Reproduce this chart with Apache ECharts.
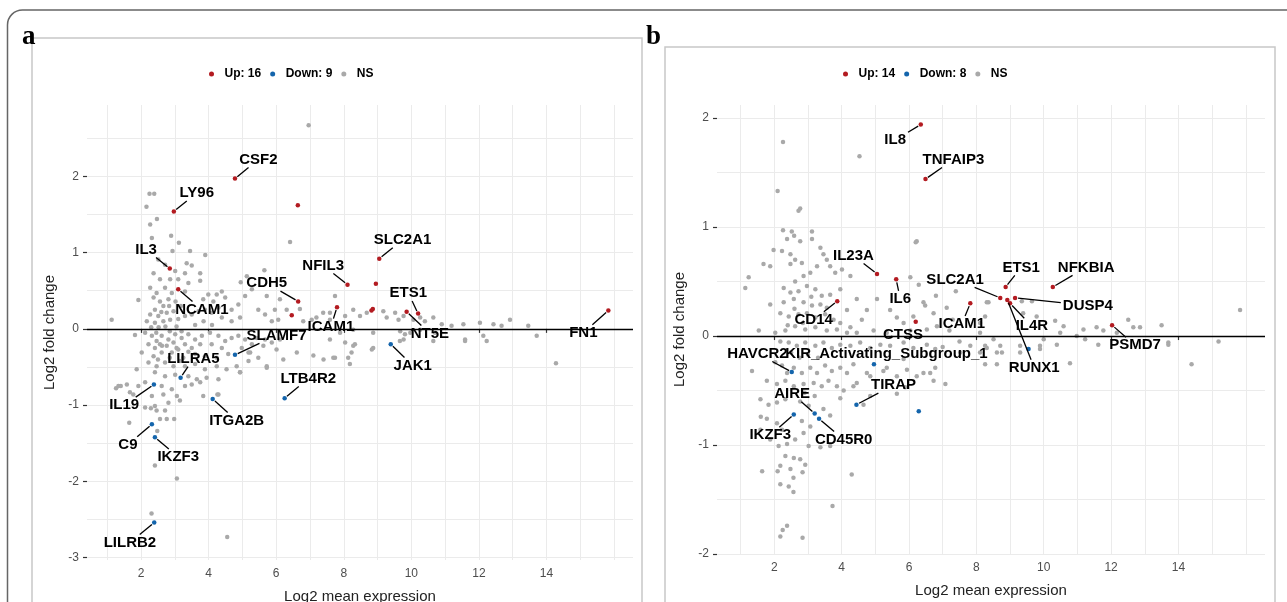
<!DOCTYPE html>
<html><head><meta charset="utf-8">
<script src="https://cdn.jsdelivr.net/npm/echarts@6/dist/echarts.min.js"></script>
<style>html,body{margin:0;padding:0;background:#fff}#c{width:1287px;height:602px}</style>
</head><body><div id="c"></div><script>
// ---------- Panel a data ----------
const aNS = [
[6.96,2.67],[2.25,1.77],[2.39,1.77],[2.16,1.60],[2.47,1.44],[2.27,1.37],[6.41,1.14],[6.31,0.25],[6.70,0.26],[7.05,0.12],[7.74,0.43],[7.39,0.21],[6.80,0.10],[7.19,0.15],[7.59,0.12],[3.90,0.97],[5.65,0.77],[5.13,0.69],[4.95,0.61],[6.11,0.39],
[2.32,1.19],[2.89,1.22],[3.12,1.13],[2.93,1.02],[3.45,1.02],[2.51,0.91],[2.71,0.84],[3.35,0.86],[3.50,0.83],[3.01,0.76],[3.30,0.73],[3.75,0.73],[3.75,0.63],[2.37,0.73],[2.56,0.65],[2.86,0.65],[3.10,0.65],[3.40,0.60],[2.27,0.54],[2.46,0.47],[2.71,0.54],[2.91,0.47],[3.30,0.49],[1.92,0.38],[2.37,0.41],[2.56,0.36],[2.81,0.39],[2.66,0.30],[2.41,0.25],[2.27,0.19],[2.51,0.17],[2.76,0.21],[2.96,0.23],[2.17,0.10],[2.41,0.08],[2.66,0.10],[2.86,0.12],[3.10,0.13],[3.30,0.17],[3.50,0.19],[3.70,0.23],[3.89,0.25],[4.09,0.21],[4.29,0.28],[4.24,0.45],[4.39,0.49],[4.49,0.41],[4.14,0.36],[3.99,0.45],[3.84,0.39],[4.68,0.25],[4.88,0.32],[4.93,0.15],[4.68,0.10],[4.39,0.15],[5.08,0.43],[5.28,0.52],[5.47,0.25],[5.72,0.43],[5.67,0.19],[5.96,0.25],[5.87,0.10],[6.06,0.12],[1.13,0.12],
[2.60,0.22],[2.72,0.03],[2.83,0.30],[3.02,0.36],[3.18,0.30],[2.52,0.02],[3.05,0.03],[2.30,0.02],[3.60,0.05],[3.85,0.10],[4.10,0.05],[2.45,-0.05],[2.85,-0.03],[3.20,-0.03],[2.62,-0.22],[3.05,-0.25],[3.40,-0.30],[2.85,-0.38],[3.15,-0.42],[2.50,-0.40],
[1.82,-0.08],[2.12,-0.05],[2.32,-0.09],[2.46,-0.16],[2.61,-0.09],[2.81,-0.14],[3.01,-0.07],[3.20,-0.12],[3.40,-0.07],[3.60,-0.14],[3.80,-0.09],[4.04,-0.05],[4.29,-0.09],[4.49,-0.16],[4.68,-0.12],[4.88,-0.09],[5.08,-0.14],[5.28,-0.20],[5.42,-0.12],[5.67,-0.14],[5.87,-0.18],[6.11,-0.14],
[2.22,-0.20],[2.41,-0.25],[2.56,-0.20],[2.76,-0.22],[2.96,-0.18],[3.10,-0.27],[3.30,-0.20],[3.50,-0.25],[3.75,-0.20],[4.09,-0.20],[4.39,-0.25],[4.98,-0.25],
[2.02,-0.31],[2.37,-0.36],[2.61,-0.31],[2.91,-0.31],[3.25,-0.38],[3.60,-0.33],[3.89,-0.36],[4.24,-0.38],[4.58,-0.33],[5.18,-0.31],[5.47,-0.38],[5.72,-0.49],[5.18,-0.42],
[2.22,-0.44],[2.46,-0.49],[2.71,-0.44],[2.96,-0.49],[3.30,-0.49],[3.60,-0.46],[3.89,-0.53],[4.24,-0.49],[4.53,-0.53],[4.83,-0.49],
[2.41,-0.57],[2.71,-0.62],[3.01,-0.60],[3.40,-0.62],[3.65,-0.66],[3.94,-0.64],[4.29,-0.66],[4.93,-0.57],
[1.33,-0.75],[1.58,-0.73],[1.92,-0.75],[2.12,-0.70],[2.61,-0.75],[2.91,-0.79],[3.30,-0.75],[3.50,-0.73],[3.75,-0.70],
[1.77,-0.86],[2.32,-0.88],[2.66,-0.86],[3.06,-0.88],[4.29,-0.86],[2.41,-1.01],[2.81,-0.97],
[1.87,-0.53],[1.26,-0.78],[1.40,-0.75],[1.67,-0.83],[1.65,-1.23],[2.12,-1.03],[2.29,-1.04],[2.46,-1.07],[2.71,-1.07],[2.56,-1.18],[2.76,-1.18],[2.98,-1.18],[2.48,-1.34],[2.41,-1.79],[3.06,-1.96],[2.31,-2.42],[4.55,-2.73],[3.15,-0.94],[3.84,-0.88],[4.26,-0.86],[4.93,-0.57],[5.72,-0.51],[6.21,-0.40],[6.61,-0.31],[7.10,-0.35],[7.40,-0.40],[7.74,-0.38],[5.23,-0.31],[5.62,-0.22],[6.01,-0.27],
[7.59,0.21],[8.04,0.17],[8.28,0.25],[8.48,0.17],[8.68,0.21],[9.17,0.23],[9.27,0.15],[9.52,0.21],[9.62,0.12],[9.77,0.17],[10.06,0.12],[10.26,0.15],[10.40,0.10],[10.65,0.15],[10.90,0.06],[11.19,0.04],[11.54,0.06],[12.03,0.08],[12.43,0.06],[12.67,0.04],[12.92,0.12],[13.46,0.04],[13.71,-0.09],[12.13,-0.09],[11.59,-0.14],[10.70,-0.05],[10.26,-0.01],[9.67,-0.03],[8.87,-0.05],[8.28,-0.01],[7.89,-0.05],[7.59,-0.14],[8.28,-0.22],[8.04,-0.18],[8.87,-0.25],[9.77,-0.14],[9.81,-0.07],[9.97,-0.05],
[7.69,-0.38],[8.18,-0.46],[8.13,-0.38],[8.23,-0.31],[8.33,-0.20],[8.83,-0.27],[9.66,-0.16],[10.65,-0.16],[11.59,-0.16],[14.28,-0.45],[12.23,-0.16]
];
const aUp = [
[4.78,1.97,'CSF2'],[2.97,1.54,'LY96'],[6.64,1.62,''],[2.85,0.79,'IL3'],[3.10,0.52,'NCAM1'],[6.65,0.36,'CDH5'],[8.11,0.58,'NFIL3'],[7.80,0.285,'ICAM1'],[9.05,0.92,'SLC2A1'],[8.95,0.59,''],[8.82,0.24,''],[8.86,0.26,''],[9.86,0.225,'NT5E'],[10.20,0.20,'ETS1'],[15.83,0.24,'FN1'],[6.46,0.18,'']
];
const aDown = [
[4.78,-0.34,'SLAMF7'],[3.17,-0.64,'LILRA5'],[2.38,-0.73,'IL19'],[4.12,-0.92,'ITGA2B'],[6.25,-0.91,'LTB4R2'],[2.32,-1.25,'C9'],[2.41,-1.42,'IKZF3'],[2.39,-2.54,'LILRB2'],[9.39,-0.20,'JAK1']
];
const aLabels = [
['CSF2',5.47,2.22],['LY96',3.65,1.78],['IL3',2.15,1.04],['NCAM1',3.80,0.255],['CDH5',5.72,0.60],['NFIL3',7.39,0.83],['ICAM1',7.62,0.03],['SLC2A1',9.74,1.17],['ETS1',9.91,0.47],['NT5E',10.55,-0.06],['FN1',15.09,-0.05],['SLAMF7',6.01,-0.085],['LILRA5',3.55,-0.39],['IL19',1.50,-1.0],['ITGA2B',4.83,-1.2],['LTB4R2',6.95,-0.65],['C9',1.61,-1.52],['IKZF3',3.10,-1.68],['LILRB2',1.67,-2.80],['JAK1',10.04,-0.48]
];
// ---------- Panel b data ----------
const bNS = [
[2.72,1.15],[2.77,1.17],[2.26,0.97],[2.52,0.96],[2.59,0.92],[2.38,0.89],[2.77,0.87],[3.12,0.96],[3.12,0.89],[1.98,0.79],[2.23,0.78],[2.48,0.75],[2.62,0.70],[2.82,0.67],[2.48,0.66],[1.68,0.66],[1.88,0.64],[3.37,0.81],[3.46,0.75],[3.56,0.70],[3.66,0.64],[3.81,0.58],[4.01,0.61],[4.26,0.55],[3.27,0.64],[3.07,0.58],[2.87,0.55],[2.62,0.50],[1.24,0.54],[1.14,0.44],[2.28,0.44],[2.48,0.40],[2.72,0.41],[2.97,0.46],[3.22,0.43],[3.41,0.37],[3.66,0.38],[3.96,0.43],[1.88,0.29],[2.28,0.31],[2.58,0.34],[2.87,0.31],[3.12,0.28],[3.37,0.29],[3.56,0.26],[4.16,0.24],[4.45,0.34],[2.18,0.21],[2.43,0.18],[2.72,0.20],[2.97,0.21],[3.22,0.17],[3.51,0.20],[3.76,0.15],[3.96,0.12],[4.26,0.08],[4.60,0.15],[4.75,0.24],[5.05,0.34],[5.44,0.24],[5.64,0.17],[5.84,0.12],[6.13,0.18],[6.48,0.28],[6.73,0.21],[6.23,0.87],[6.04,0.54],[6.29,0.47],[6.43,0.31],[2.62,0.09],[2.92,0.06],[3.22,0.08],[3.56,0.05],[3.86,0.06],[4.16,0.03],[4.45,0.03],[4.95,0.05],[5.34,0.03],[6.04,0.05],[6.53,0.06],[6.83,0.09],[2.03,0.03],[2.33,0.05],
[2.40,0.10],[2.60,0.25],[2.85,0.12],[3.10,0.36],[2.50,-0.15],[2.75,-0.20],[3.00,-0.17],[3.30,-0.20],[2.90,-0.52],[3.20,-0.55],
[2.18,-0.05],[2.43,-0.06],[2.67,-0.09],[2.92,-0.06],[3.22,-0.09],[3.46,-0.06],[3.71,-0.11],[3.96,-0.08],[4.26,-0.09],[4.55,-0.06],[4.85,-0.11],[5.15,-0.08],[5.44,-0.09],[5.84,-0.06],[6.13,-0.11],[6.53,-0.08],[6.78,-0.12],
[1.34,-0.32],[2.03,-0.24],[2.23,-0.27],[2.38,-0.34],[2.58,-0.29],[2.82,-0.34],[3.07,-0.29],[3.27,-0.34],[3.51,-0.27],[3.71,-0.32],[3.96,-0.29],[4.16,-0.34],[4.35,-0.26],[4.75,-0.34],[5.34,-0.29],[5.64,-0.37],[5.94,-0.31],[6.23,-0.37],[6.63,-0.34],[6.73,-0.41],
[1.78,-0.41],[2.08,-0.44],[2.33,-0.41],[2.58,-0.46],[2.87,-0.44],[3.17,-0.43],[3.41,-0.46],[3.61,-0.41],[3.86,-0.46],[4.06,-0.50],[4.35,-0.46],[4.65,-0.63],[4.85,-0.55],[5.64,-0.53],
[1.59,-0.58],[1.83,-0.63],[2.08,-0.61],[2.33,-0.58],[2.77,-0.60],[3.02,-0.64],[3.46,-0.67],[3.66,-0.73],[1.78,-0.76],[2.08,-0.80],[2.23,-0.86],[2.82,-0.78],[3.07,-0.83],[1.59,-0.86],[1.88,-0.95],[2.13,-1.01],[2.38,-0.99],[2.62,-0.95],[3.02,-1.01],[2.33,-1.10],[2.58,-1.12],[2.18,-1.19],[2.48,-1.22],[1.64,-1.24],[2.43,-1.38],[2.18,-1.36],[4.30,-1.27],
[2.10,-1.24],[2.57,-1.30],[2.84,-1.25],[2.92,-1.18],[2.77,-1.13],[3.73,-1.56],[2.38,-1.74],[2.25,-1.78],[2.18,-1.84],[2.84,-1.85],[2.57,-1.43],[7.08,-0.44],[7.52,-0.15],
[1.60,-0.74],[2.87,-0.89],[3.37,-1.02],[3.66,-1.01],[3.96,-0.57],[5.89,-0.47],[6.78,-0.29],[6.43,-0.34],[5.84,-0.21],[5.24,-0.32],[4.85,-0.37],[4.45,-0.43],
[2.26,1.78],[2.10,1.33],[4.53,1.65],[6.20,0.86],[7.39,0.41],[7.12,0.26],[8.11,0.12],[8.31,0.31],[8.26,0.18],[6.80,0.37],[1.54,0.05],[7.20,0.05],[7.50,-0.05],[7.00,-0.10],[7.30,0.15],
[8.36,0.31],[9.35,0.32],[9.65,0.32],[10.34,0.14],[10.59,0.09],[9.79,0.18],[9.39,0.21],[11.18,0.06],[11.57,0.08],[11.77,0.05],[12.17,0.03],[12.51,0.15],[12.66,0.08],[12.86,0.08],[13.50,0.10],[13.70,-0.06],[11.62,-0.08],[15.83,0.24],[15.19,-0.05],[10.00,-0.03],[10.49,0.03],[10.98,0.00],[11.23,-0.03],[8.51,-0.03],[8.11,0.03],[7.82,-0.09],[8.11,-0.15],[8.61,-0.15],[9.30,-0.09],[9.89,-0.12],[8.31,-0.11],[8.71,-0.09],
[8.26,-0.26],[8.61,-0.26],[8.26,-0.09],[8.76,-0.15],[9.30,-0.15],[9.89,-0.09],[10.78,-0.25],[10.39,-0.08],[13.70,-0.08],[14.39,-0.26]
];
const bUp = [
[6.35,1.94,'IL8'],[6.49,1.44,'TNFAIP3'],[5.05,0.57,'IL23A'],[5.62,0.52,'IL6'],[3.87,0.32,'CD14'],[6.20,0.13,'CTSS'],[7.82,0.30,'ICAM1'],[8.71,0.35,'SLC2A1'],[8.87,0.45,'ETS1'],[8.92,0.33,'RUNX1'],[9.00,0.30,'IL4R'],[9.15,0.35,'DUSP4'],[10.27,0.45,'NFKBIA'],[12.03,0.10,'PSMD7']
];
const bDown = [
[4.96,-0.26,'KIR_Activating_Subgroup_1'],[4.44,-0.63,'TIRAP'],[6.29,-0.69,''],[2.58,-0.72,'IKZF3'],[3.20,-0.71,'AIRE'],[3.33,-0.76,'CD45R0'],[9.55,-0.12,''],[2.52,-0.33,'HAVCR2']
];
const bLabels = [
['IL8',5.59,1.80],['TNFAIP3',7.32,1.62],['IL23A',4.35,0.74],['IL6',5.74,0.34],['CD14',3.17,0.15],['CTSS',5.82,0.015],['ICAM1',7.57,0.11],['SLC2A1',7.37,0.52],['ETS1',9.33,0.63],['NFKBIA',11.26,0.63],['DUSP4',11.31,0.28],['IL4R',9.65,0.09],['RUNX1',9.72,-0.29],['PSMD7',12.71,-0.085],['HAVCR2',1.50,-0.16],['KIR_Activating_Subgroup_1',5.33,-0.16],['AIRE',2.53,-0.53],['IKZF3',1.88,-0.91],['CD45R0',4.06,-0.95],['TIRAP',5.54,-0.45]
];
// ---------- axis ticks ----------
const xTicks = [2,4,6,8,10,12,14];
const xGrid = [1,2,3,4,5,6,7,8,9,10,11,12,13,14,15,16];
const aYTicks = [-3,-2,-1,0,1,2];
const aYGrid = [-3,-2.5,-2,-1.5,-1,-0.5,0,0.5,1,1.5,2,2.5];
const bYTicks = [-2,-1,0,1,2];
const bYGrid = [-2,-1.5,-1,-0.5,0,0.5,1,1.5,2];
const legendA = ['Up: 16','Down: 9','NS_a'];
const legendB = ['Up: 14','Down: 8','NS_b'];

const FONT = '"Liberation Sans", Arial, Helvetica, sans-serif';
const RED='#B31B21', BLUE='#1465AC', GREY='#A9A9A9';
const LFONT = 'bold 15px ' + FONT;
const ctx = document.createElement('canvas').getContext('2d');
ctx.font = LFONT;
const measure = t => ctx.measureText(t).width;

function labelData(pts, labels) {
  return labels.map(l => { const p = pts.find(q => q[2] === l[0]); return [p[0], p[1], l[1], l[2]]; });
}
function makeRender(labels) {
  return function (params, api) {
    const name = labels[params.dataIndex][0];
    const p = api.coord([api.value(0), api.value(1)]);
    const c = api.coord([api.value(2), api.value(3)]);
    const hw = measure(name) / 2 + 2, hh = 8;
    const dx = c[0] - p[0], dy = c[1] - p[1];
    const children = [];
    if (!(Math.abs(dx) <= hw && Math.abs(dy) <= hh)) {
      let s = Infinity;
      if (dx !== 0) s = Math.min(s, hw / Math.abs(dx));
      if (dy !== 0) s = Math.min(s, hh / Math.abs(dy));
      const t = 1 - s;
      const ex = p[0] + dx * t, ey = p[1] + dy * t;
      const len = Math.hypot(ex - p[0], ey - p[1]);
      if (len > 8) {
        const ux = (ex - p[0]) / len, uy = (ey - p[1]) / len;
        children.push({type:'line', shape:{x1:p[0]+ux*3, y1:p[1]+uy*3, x2:ex, y2:ey}, style:{stroke:'#000', lineWidth:1.3}});
      }
    }
    children.push({type:'text', x:c[0], y:c[1], style:{text:name, font:LFONT, fill:'#000', align:'center', verticalAlign:'middle'}});
    return {type:'group', children};
  };
}

const axisLabelStyle = {color:'#4d4d4d', fontSize:12, fontFamily:FONT};
function mainX(gi, min, max) {
  return {gridIndex:gi, type:'value', min, max, axisLine:{show:false},
    axisTick:{show:true, customValues:xTicks, length:4, lineStyle:{color:'#333', width:1.2}},
    axisLabel:Object.assign({customValues:xTicks, margin:8}, axisLabelStyle),
    splitLine:{show:false}, name:'Log2 mean expression', nameLocation:'middle', nameGap:29,
    nameTextStyle:{fontSize:15, color:'#222', fontFamily:FONT}};
}
function gridX(gi, min, max) {
  return {gridIndex:gi, type:'value', min, max, axisLine:{show:false},
    axisTick:{show:false, customValues:xGrid}, axisLabel:{show:false},
    splitLine:{show:true, lineStyle:{color:'#ebebeb', width:1}}};
}
function mainY(gi, min, max, ticks) {
  return {gridIndex:gi, type:'value', min, max, axisLine:{show:false},
    axisTick:{show:true, customValues:ticks, length:4, lineStyle:{color:'#333', width:1.2}},
    axisLabel:Object.assign({customValues:ticks, margin:8}, axisLabelStyle),
    splitLine:{show:false}, name:'Log2 fold change', nameLocation:'middle', nameGap:30,
    nameTextStyle:{fontSize:15, color:'#222', fontFamily:FONT}};
}
function gridY(gi, min, max, g) {
  return {gridIndex:gi, type:'value', min, max, axisLine:{show:false},
    axisTick:{show:false, customValues:g}, axisLabel:{show:false},
    splitLine:{show:true, lineStyle:{color:'#ebebeb', width:1}}};
}
const zeroLine = {silent:true, symbol:'none', label:{show:false}, animation:false,
  lineStyle:{color:'#000', width:1.3, type:'solid'}, emphasis:{disabled:true}, data:[{yAxis:0}]};
function scat(name, data, color, xi, yi, ml) {
  const s = {name, type:'scatter', data:data.map(d => [d[0], d[1]]), xAxisIndex:xi, yAxisIndex:yi,
    symbolSize:4.5, itemStyle:{color, opacity:1}, silent:true, z:2};
  if (ml) s.markLine = ml;
  return s;
}
const legendCommon = {top:63, itemWidth:16, itemHeight:5, itemGap:9, selectedMode:false,
  formatter: n => n.replace(/_[ab]$/, ''), textStyle:{fontWeight:'bold', fontSize:12, color:'#000', fontFamily:FONT}};

const chart = echarts.init(document.getElementById('c'), null, {renderer:'canvas'});
chart.setOption({
  animation:false,
  backgroundColor:'#fff',
  grid:[
    {left:87, top:105, width:546, height:455, containLabel:false, outerBoundsMode:'none'},
    {left:717, top:105, width:548, height:449, containLabel:false, outerBoundsMode:'none'}
  ],
  xAxis:[mainX(0,0.4,16.56), gridX(0,0.4,16.56), mainX(1,0.3,16.57), gridX(1,0.3,16.57)],
  yAxis:[mainY(0,-3.03,2.935,aYTicks), gridY(0,-3.03,2.935,aYGrid), mainY(1,-2.0,2.12,bYTicks), gridY(1,-2.0,2.12,bYGrid)],
  legend:[
    Object.assign({data:legendA, left:204}, legendCommon),
    Object.assign({data:legendB, left:838}, legendCommon)
  ],
  series:[
    scat('NS_a', aNS, GREY, 0, 0, zeroLine),
    scat('Up: 16', aUp, RED, 0, 0),
    scat('Down: 9', aDown, BLUE, 0, 0),
    {type:'custom', xAxisIndex:0, yAxisIndex:0, z:5, silent:true, renderItem:makeRender(aLabels),
      data:labelData(aUp.concat(aDown), aLabels), encode:{x:0, y:1}},
    scat('NS_b', bNS, GREY, 2, 2, zeroLine),
    scat('Up: 14', bUp, RED, 2, 2),
    scat('Down: 8', bDown, BLUE, 2, 2),
    {type:'custom', xAxisIndex:2, yAxisIndex:2, z:5, silent:true, renderItem:makeRender(bLabels),
      data:labelData(bUp.concat(bDown), bLabels), encode:{x:0, y:1}}
  ],
  graphic:[
    {type:'rect', shape:{x:7.5, y:10, width:1300, height:620, r:[15,0,0,0]}, style:{fill:'none', stroke:'#666', lineWidth:1.5}, silent:true, z:-1},
    {type:'rect', shape:{x:32, y:38, width:610, height:600}, style:{fill:'none', stroke:'#c8c8c8', lineWidth:1.5}, silent:true, z:-1},
    {type:'rect', shape:{x:665, y:47, width:610, height:600}, style:{fill:'none', stroke:'#c8c8c8', lineWidth:1.5}, silent:true, z:-1},
    {type:'text', x:22, y:37, style:{text:'a', font:'bold 27px "Liberation Serif", "Times New Roman", serif', fill:'#000', verticalAlign:'middle'}, silent:true},
    {type:'text', x:646, y:37, style:{text:'b', font:'bold 27px "Liberation Serif", "Times New Roman", serif', fill:'#000', verticalAlign:'middle'}, silent:true}
  ]
});
</script></body></html>
